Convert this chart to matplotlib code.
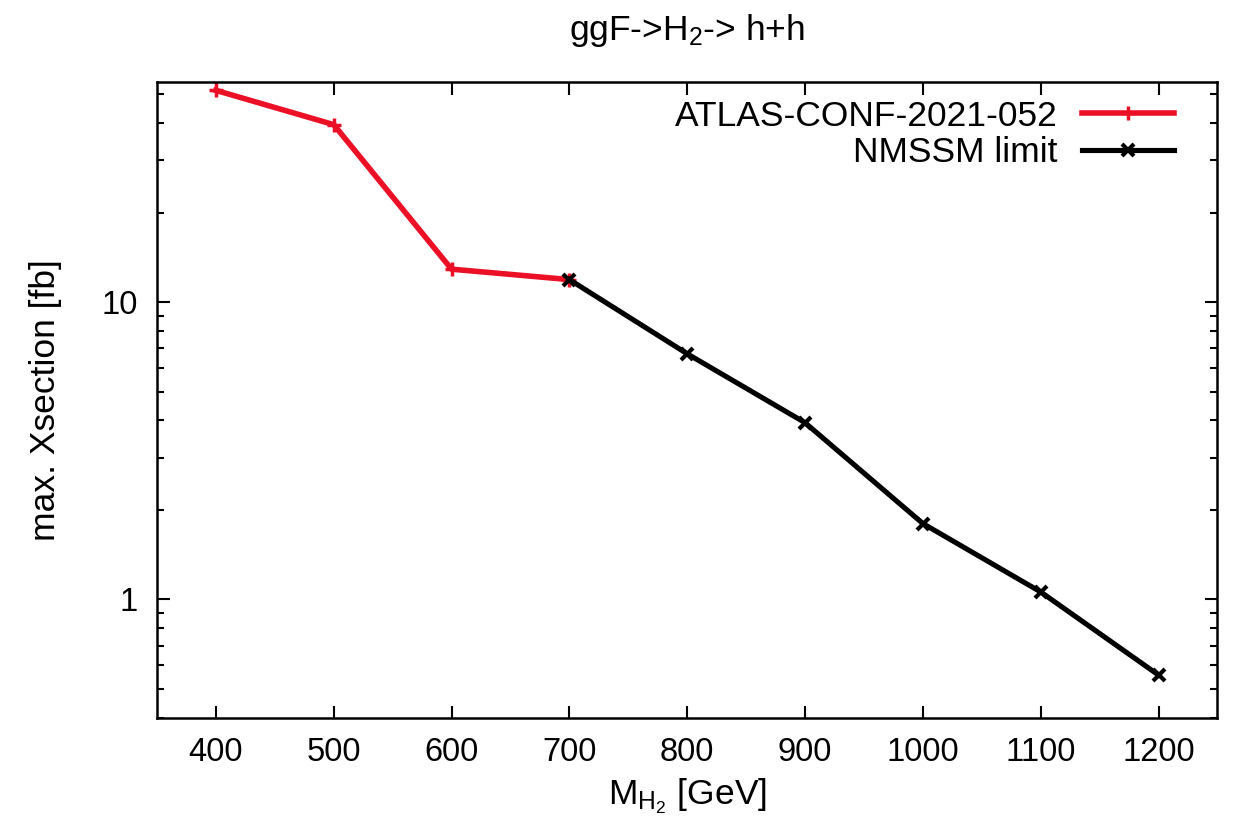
import matplotlib.pyplot as plt
from matplotlib.ticker import LogLocator, FixedLocator, NullFormatter, FuncFormatter

plt.rcParams['font.family'] = ['Liberation Sans', 'DejaVu Sans']
plt.rcParams['mathtext.fontset'] = 'custom'
plt.rcParams['mathtext.rm'] = 'Liberation Sans'
plt.rcParams['mathtext.it'] = 'Liberation Sans'

# data
atlas_mass = [400, 500, 600, 700]
atlas_xsec = [51.5, 39.5, 12.9, 11.9]
nmssm_mass = [700, 800, 900, 1000, 1100, 1200]
nmssm_xsec = [11.9, 6.7, 3.93, 1.80, 1.06, 0.557]
xticks = [400, 500, 600, 700, 800, 900, 1000, 1100, 1200]

fs_tick = 23.5
fs_lab = 25.5

fig = plt.figure(figsize=(12.36, 8.27), dpi=100)
ax = fig.add_axes([0.127, 0.132, 0.858, 0.769])

ax.plot(atlas_mass, atlas_xsec, color='#ec1026', lw=4, marker='+', ms=10, mew=2.5,
        label='ATLAS-CONF-2021-052')
ax.plot(nmssm_mass, nmssm_xsec, color='black', lw=3.7, marker='x', ms=9, mew=3,
        label='NMSSM limit')

ax.set_yscale('log')
ax.set_xlim(350, 1250)
ax.set_ylim(0.4, 55)
ax.xaxis.set_major_locator(FixedLocator(xticks))
ax.yaxis.set_major_locator(FixedLocator([1, 10]))
ax.yaxis.set_major_formatter(FuncFormatter(lambda v, p: '%g' % v))
ax.yaxis.set_minor_locator(LogLocator(base=10, subs=range(2, 10)))
ax.yaxis.set_minor_formatter(NullFormatter())

ax.tick_params(which='both', direction='in', top=True, right=True, labelsize=fs_tick, width=1.5)
ax.tick_params(which='major', length=9, pad=14)
ax.tick_params(which='minor', length=5)
for s in ax.spines.values():
    s.set_linewidth(1.8)

ax.set_title('ggF->H$_2$-> h+h', fontsize=fs_lab, pad=30)
ax.set_xlabel('M$_{\\mathregular{H_2}}$ [GeV]', fontsize=fs_lab, labelpad=6)
ax.set_ylabel('max. Xsection [fb]', fontsize=fs_lab, labelpad=28)

ax.legend(loc='upper right', fontsize=fs_lab, frameon=False, markerfirst=False,
          handlelength=2.6, handletextpad=0.7, labelspacing=0.1,
          borderaxespad=0.5, borderpad=0.0, bbox_to_anchor=(0.976, 1.0))
for t in ax.get_legend().get_texts():
    t.set_ha('right')

fig.savefig('out.png', dpi=100)
